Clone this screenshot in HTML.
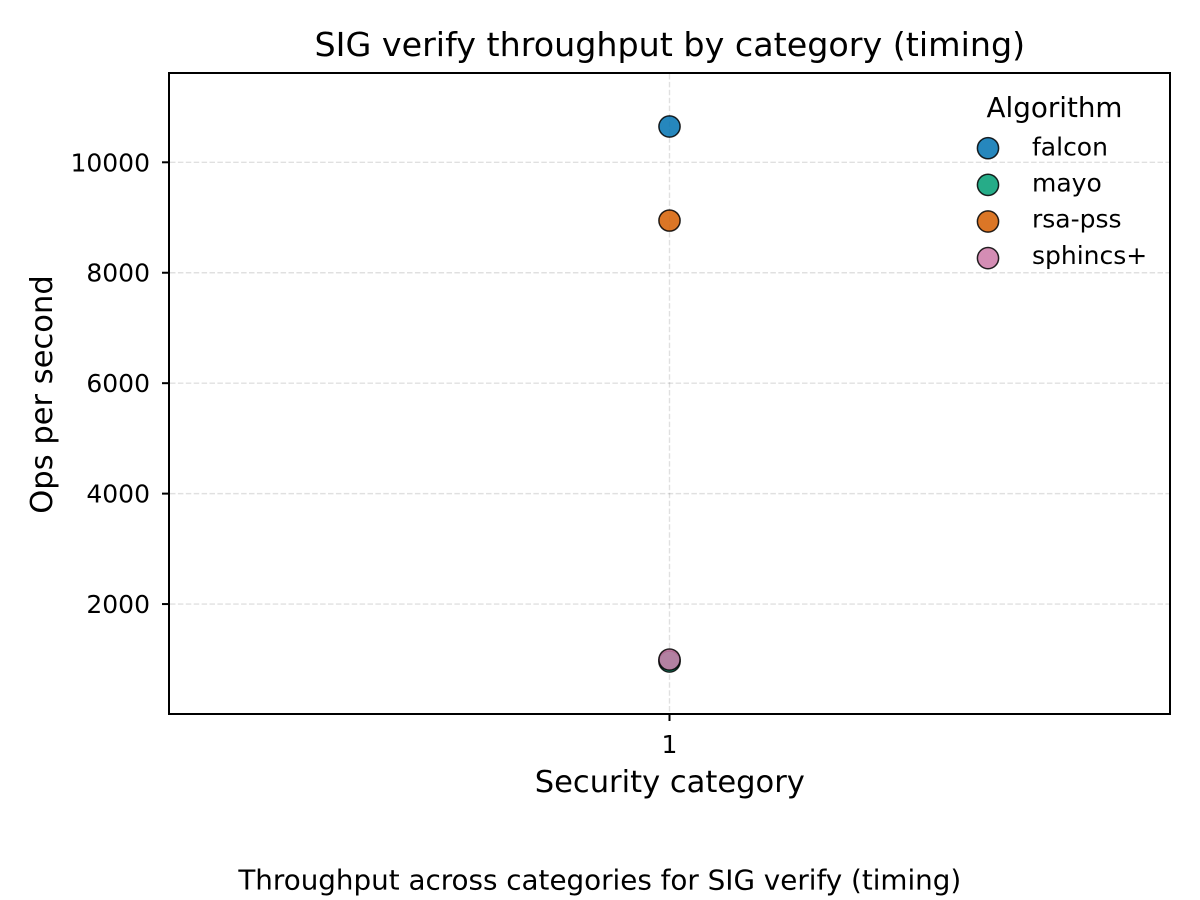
<!DOCTYPE html>
<html>
<head>
<meta charset="utf-8">
<style>
html,body{margin:0;padding:0;background:#fff;width:1200px;height:900px;overflow:hidden}
svg{display:block}
text{font-family:"DejaVu Sans","Liberation Sans",sans-serif;fill:#000}
</style>
</head>
<body>
<svg id="chart" width="1200" height="900" viewBox="0 0 1200 900" xmlns="http://www.w3.org/2000/svg">
  <rect x="0" y="0" width="1200" height="900" fill="#fff"/>
  <g id="grid"></g>
  <g id="points"></g>
  <rect x="169" y="73" width="1001" height="641" fill="none" stroke="#000" stroke-width="2"/>
  <g id="ticks"></g>
  <text x="669.8" y="56" font-size="33.33" text-anchor="middle">SIG verify throughput by category (timing)</text>
  <text x="669.8" y="792" font-size="30.56" text-anchor="middle">Security category</text>
  <text transform="translate(52,394.5) rotate(-90)" font-size="30.56" text-anchor="middle">Ops per second</text>
  <text x="599.8" y="889.5" font-size="27.78" text-anchor="middle">Throughput across categories for SIG verify (timing)</text>
  <g id="legend">
    <text x="1054.5" y="117" font-size="27.78" text-anchor="middle">Algorithm</text>
  </g>
</svg>
<script>
const algorithms = ['falcon', 'mayo', 'rsa-pss', 'sphincs+'];
const categories = [1, 1, 1, 1];
const opsPerSecond = [10648, 960, 8945, 995];
const colors = ['#0072B2', '#009E73', '#D55E00', '#CC79A7'];
const yTickValues = [2000, 4000, 6000, 8000, 10000];
const xTickValues = [1];

const NS = 'http://www.w3.org/2000/svg';
function xScale(v) { return 169.5 + v * 500; }
function yScale(v) { return 162.3 + (10000 - v) * 0.05522; }
function make(tag, attrs, parent) {
  const el = document.createElementNS(NS, tag);
  for (const k in attrs) el.setAttribute(k, attrs[k]);
  parent.appendChild(el);
  return el;
}
const grid = document.getElementById('grid');
const ticks = document.getElementById('ticks');
const points = document.getElementById('points');
const legend = document.getElementById('legend');
const gridStyle = { stroke: '#000', 'stroke-opacity': 0.12, 'stroke-width': 1.4, 'stroke-dasharray': '5.5 2.4' };

yTickValues.forEach(function (t) {
  const y = yScale(t);
  const g = make('line', Object.assign({ x1: 170, x2: 1169, y1: y, y2: y }, gridStyle), grid);
  
  
  const m = make('line', { x1: 162, x2: 169, y1: y, y2: y, stroke: '#000', 'stroke-width': 2 }, ticks);
  
  
  const l = make('text', { x: 150, y: y + 9, 'font-size': 25, 'text-anchor': 'end' }, ticks);
  
  
  l.textContent = String(t);
});

xTickValues.forEach(function (t) {
  const x = xScale(t);
  const g = make('line', Object.assign({ x1: x, x2: x, y1: 74, y2: 713 }, gridStyle), grid);
  
  
  const m = make('line', { x1: x, x2: x, y1: 714, y2: 721, stroke: '#000', 'stroke-width': 2 }, ticks);
  
  
  const l = make('text', { x: x, y: 753, 'font-size': 25, 'text-anchor': 'middle' }, ticks);
  
  
  l.textContent = String(t);
});

algorithms.forEach(function (name, i) {
  const p = make('circle', {
    cx: xScale(categories[i]), cy: yScale(opsPerSecond[i]), r: 10.6,
    fill: colors[i], 'fill-opacity': 0.85, stroke: '#000', 'stroke-opacity': 0.85, 'stroke-width': 1.5
  }, points);
  
  

  const s = make('circle', {
    cx: 988, cy: 148.2 + i * 36.65, r: 10.6,
    fill: colors[i], 'fill-opacity': 0.85, stroke: '#000', 'stroke-opacity': 0.85, 'stroke-width': 1.5
  }, legend);
  
  
  const t = make('text', { x: 1032, y: 155.5 + i * 36.1, 'font-size': 25 }, legend);
  
  
  t.textContent = name;
});
</script>
</body>
</html>
